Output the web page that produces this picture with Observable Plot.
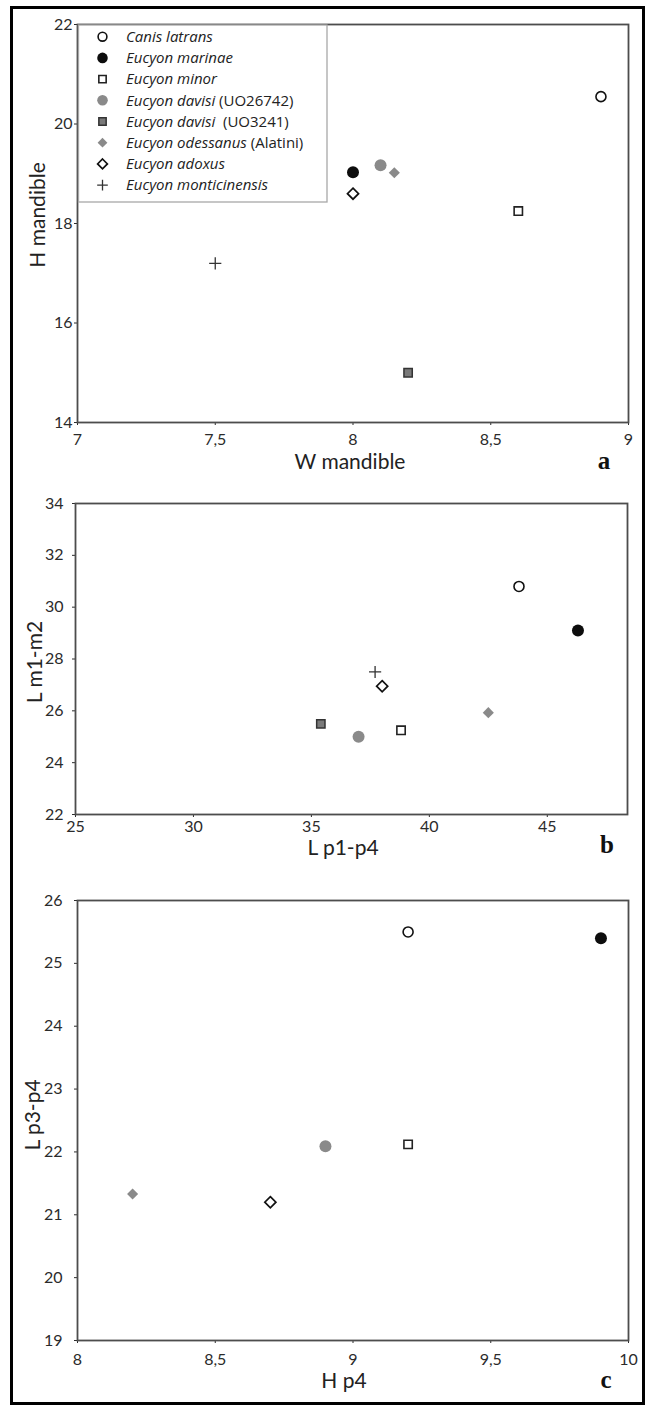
<!DOCTYPE html>
<html>
<head>
<meta charset="utf-8">
<script src="https://cdn.jsdelivr.net/npm/d3@7"></script>
<script src="https://cdn.jsdelivr.net/npm/@observablehq/plot@0.6"></script>
<style>
  body { margin: 0; background: #fff; }
  #page { position: relative; width: 648px; height: 1407px; overflow: hidden; background: #fff; }
  .frameBorder { position: absolute; left: 10px; top: 6px; width: 635px; height: 1399px; border: 3px solid #000; box-sizing: border-box; }
  .panel { position: absolute; left: 0; }
  #overlay { position: absolute; left: 0; top: 0; pointer-events: none; }
</style>
</head>
<body>
<div id="page">
  <div class="frameBorder"></div>
</div>
<script>
// ---------------- DATA ----------------
const species = [
  "Canis latrans",
  "Eucyon marinae",
  "Eucyon minor",
  "Eucyon davisi (UO26742)",
  "Eucyon davisi  (UO3241)",
  "Eucyon odessanus (Alatini)",
  "Eucyon adoxus",
  "Eucyon monticinensis"
];

// panel a: W mandible (x) vs H mandible (y)
const wMandible = [8.9, 8.0, 8.6, 8.1, 8.2, 8.15, 8.0, 7.5];
const hMandible = [20.55, 19.03, 18.25, 19.17, 15.0, 19.02, 18.6, 17.2];

// panel b: L p1-p4 (x) vs L m1-m2 (y)
const lP1P4 = [43.8, 46.3, 38.8, 37.0, 35.4, 42.5, 38.0, 37.7];
const lM1M2 = [30.8, 29.1, 25.25, 25.0, 25.5, 25.93, 26.95, 27.5];

// panel c: H p4 (x) vs L p3-p4 (y)
const hP4   = [9.2, 9.9, 9.2, 8.9, null, 8.2, 8.7, null];
const lP3P4 = [25.5, 25.4, 22.12, 22.09, null, 21.33, 21.2, null];

// axis ticks
const ticksAX = [7, 7.5, 8, 8.5, 9];
const ticksAY = [14, 16, 18, 20, 22];
const ticksBX = [25, 30, 35, 40, 45];
const ticksBY = [22, 24, 26, 28, 30, 32, 34];
const ticksCX = [8, 8.5, 9, 9.5, 10];
const ticksCY = [19, 20, 21, 22, 23, 24, 25, 26];

const titles = {
  a: {x: "W mandible", y: "H mandible", letter: "a"},
  b: {x: "L p1-p4", y: "L m1-m2", letter: "b"},
  c: {x: "H p4", y: "L p3-p4", letter: "c"}
};

// ---------------- STYLES ----------------
const styles = {
  "Canis latrans":              {symbol: "circle",   fill: "white", stroke: "#111", strokeWidth: 1.6, r: 5},
  "Eucyon marinae":             {symbol: "circle",   fill: "#0d0d0d", stroke: "none", r: 6},
  "Eucyon minor":               {symbol: "square",   fill: "white", stroke: "#222", strokeWidth: 1.6, r: 4.7},
  "Eucyon davisi (UO26742)":    {symbol: "circle",   fill: "#8a8a8a", stroke: "none", r: 6},
  "Eucyon davisi  (UO3241)":    {symbol: "square",   fill: "#7a7a7a", stroke: "#333", strokeWidth: 1.5, r: 4.7},
  "Eucyon odessanus (Alatini)": {symbol: "diamond2", fill: "#8a8a8a", stroke: "none", r: 5},
  "Eucyon adoxus":              {symbol: "diamond2", fill: "white", stroke: "#111", strokeWidth: 1.7, r: 5},
  "Eucyon monticinensis":       {symbol: "plus",     fill: "none", stroke: "#333", strokeWidth: 1.3, r: 4}
};

const fmt = d => String(d).replace(".", ",");
const page = document.getElementById("page");

function makePanel(cfg) {
  const rows = species.map((s, i) => ({species: s, x: cfg.xs[i], y: cfg.ys[i]}))
    .filter(d => d.x != null && d.y != null);
  const svg = Plot.plot({
    width: 648,
    height: cfg.height,
    marginTop: cfg.mt, marginBottom: cfg.mb, marginLeft: cfg.ml, marginRight: cfg.mr,
    style: {fontFamily: "Lato, 'Open Sans', sans-serif", fontSize: "16px", color: "#2b2b2b", background: "transparent", overflow: "visible"},
    x: {domain: cfg.xDomain},
    y: {domain: cfg.yDomain},
    marks: [
      Plot.axisX({ticks: cfg.xTicks, tickFormat: fmt, tickSize: 3, tickPadding: cfg.xPad, label: null}),
      Plot.axisY({ticks: cfg.yTicks, tickFormat: fmt, tickSize: 3, tickPadding: cfg.yPad, label: null}),
      ...species.map(s => Plot.dot(rows.filter(d => d.species === s), {x: "x", y: "y", ...styles[s]})),
      Plot.frame({stroke: "#4d4d4d", strokeWidth: 1.8})
    ]
  });
  const wrap = document.createElement("div");
  wrap.className = "panel";
  wrap.style.top = cfg.top + "px";
  wrap.appendChild(svg);
  page.appendChild(wrap);
}

makePanel({xs: wMandible, ys: hMandible, xDomain: [7, 9], yDomain: [14, 22], xTicks: ticksAX, yTicks: ticksAY,
  top: 0, height: 460, mt: 24, mb: 38, ml: 77, mr: 20, xPad: 8, yPad: 2});
makePanel({xs: lP1P4, ys: lM1M2, xDomain: [25, 48.4], yDomain: [22, 34], xTicks: ticksBX, yTicks: ticksBY,
  top: 480, height: 370, mt: 23, mb: 36, ml: 75, mr: 21, xPad: 3, yPad: 9});
makePanel({xs: hP4, ys: lP3P4, xDomain: [8, 10], yDomain: [19, 26], xTicks: ticksCX, yTicks: ticksCY,
  top: 880, height: 500, mt: 20, mb: 40, ml: 77, mr: 20, xPad: 10, yPad: 12});

// ---------------- OVERLAY: legend, axis titles, panel letters ----------------
const ov = d3.select(page).append("svg")
  .attr("id", "overlay").attr("width", 648).attr("height", 1407);

// legend
const lg = ov.append("g");
lg.append("rect").attr("x", 78.5).attr("y", 25).attr("width", 248.5).attr("height", 177)
  .attr("fill", "white").attr("stroke", "#a8a8a8").attr("stroke-width", 1.3);
const symMap = {circle: d3.symbolCircle, square: d3.symbolSquare, diamond2: d3.symbolDiamond2, plus: d3.symbolPlus};
species.forEach((s, i) => {
  const st = styles[s];
  const cy = 36.7 + 21.2 * i;
  const rr = st.r * 0.88;
  lg.append("path")
    .attr("d", d3.symbol(symMap[st.symbol], Math.PI * rr * rr)())
    .attr("transform", `translate(102.5,${cy})`)
    .attr("fill", st.fill).attr("stroke", st.stroke).attr("stroke-width", st.strokeWidth || 0);
  const m = s.match(/^(.*?)(\s+\(.*\))?$/);
  const t = lg.append("text").attr("x", 126).attr("y", cy + 5.3)
    .attr("font-family", "'Open Sans', sans-serif").attr("font-size", 15).attr("fill", "#222")
    .style("white-space", "pre");
  t.append("tspan").attr("font-style", "italic").text(m[1]);
  if (m[2]) t.append("tspan").text(m[2]);
});

// axis titles
const titleFont = "Lato, 'Open Sans', sans-serif";
const xTitlePos = {a: [350, 469], b: [343, 855], c: [344, 1388]};
const yTitlePos = {a: [45, 215], b: [42, 662], c: [40, 1115]};
const letterPos = {a: [604, 469], b: [607, 853], c: [606, 1388]};
for (const k of ["a", "b", "c"]) {
  ov.append("text").attr("x", xTitlePos[k][0]).attr("y", xTitlePos[k][1])
    .attr("text-anchor", "middle").attr("font-family", titleFont).attr("font-size", 21).attr("fill", "#222")
    .text(titles[k].x);
  ov.append("text").attr("transform", `translate(${yTitlePos[k][0]},${yTitlePos[k][1]}) rotate(-90)`)
    .attr("text-anchor", "middle").attr("font-family", titleFont).attr("font-size", 21).attr("fill", "#222")
    .text(titles[k].y);
  ov.append("text").attr("x", letterPos[k][0]).attr("y", letterPos[k][1])
    .attr("text-anchor", "middle").attr("font-family", "'Liberation Serif', 'DejaVu Serif', serif")
    .attr("font-weight", "bold").attr("font-size", 25).attr("fill", "#111")
    .text(titles[k].letter);
}
</script>
</body>
</html>
